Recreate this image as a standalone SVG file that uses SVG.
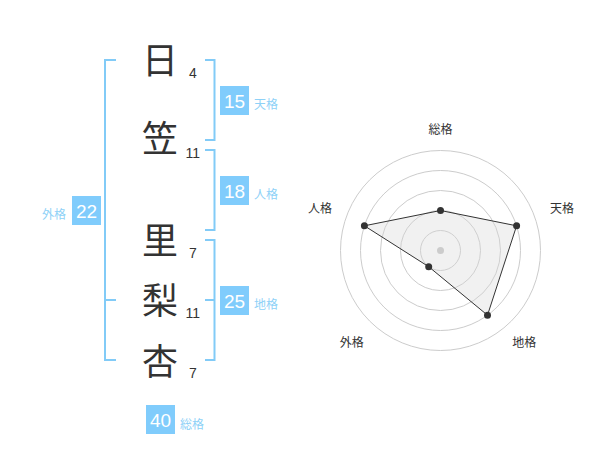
<svg xmlns="http://www.w3.org/2000/svg" width="600" height="470" viewBox="0 0 600 470">
<style>
.kanji{font-family:"Noto Sans CJK JP","Noto Sans CJK SC",sans-serif;font-size:36px;fill:#333;text-anchor:middle}
.strk{font-family:"Liberation Sans",Arial,sans-serif;font-size:14px;fill:#333;text-anchor:middle}
.box{fill:#80ccfc}
.boxnum{font-family:"Liberation Sans",Arial,sans-serif;font-size:19px;fill:#fff;text-anchor:middle}
.lbl{font-family:"Noto Sans CJK JP","Noto Sans CJK SC",sans-serif;font-size:12px;fill:#8ed1f7}
.br{fill:none;stroke:#82cbf7;stroke-width:2}
.ring{fill:none;stroke:#ccc;stroke-width:1}
.rlbl{font-family:"Noto Sans CJK JP","Noto Sans CJK SC",sans-serif;font-size:12px;fill:#333;text-anchor:middle}
.vtx{fill:#333}
</style>
<rect width="600" height="470" fill="#fff"/>
<g id="connectors">
<polyline class="br" points="116,60 105,60 105,360 116,360"/>
<line class="br" x1="105" y1="300" x2="116" y2="300"/>
<polyline class="br" points="205,60 214.5,60 214.5,140 205,140"/>
<polyline class="br" points="205,150 214.5,150 214.5,230 205,230"/>
<polyline class="br" points="205,240 214.5,240 214.5,360 205,360"/>
<line class="br" x1="214.5" y1="300" x2="205" y2="300"/>
</g>
<g id="char-1"><text class="kanji" x="160" y="74">日</text><text class="strk" x="192.8" y="78">4</text></g>
<g id="char-2"><text class="kanji" x="160" y="152">笠</text><text class="strk" x="192.8" y="158">11</text></g>
<g id="char-3"><text class="kanji" x="160" y="254">里</text><text class="strk" x="192.8" y="258">7</text></g>
<g id="char-4"><text class="kanji" x="160" y="314">梨</text><text class="strk" x="192.8" y="318">11</text></g>
<g id="char-5"><text class="kanji" x="160" y="375">杏</text><text class="strk" x="192.8" y="378">7</text></g>
<g id="tenkaku"><rect class="box" x="220" y="86" width="29" height="29"/><text class="boxnum" x="234.5" y="107.5">15</text><text class="lbl" x="254" y="109">天格</text></g>
<g id="jinkaku"><rect class="box" x="220" y="176" width="29" height="29"/><text class="boxnum" x="234.5" y="197.5">18</text><text class="lbl" x="254" y="199">人格</text></g>
<g id="chikaku"><rect class="box" x="220" y="286" width="29" height="29"/><text class="boxnum" x="234.5" y="307.5">25</text><text class="lbl" x="254" y="309">地格</text></g>
<g id="gaikaku"><rect class="box" x="72" y="196" width="29" height="29"/><text class="boxnum" x="86.5" y="217.5">22</text><text class="lbl" x="66" y="219" text-anchor="end">外格</text></g>
<g id="soukaku"><rect class="box" x="146" y="405" width="29" height="29"/><text class="boxnum" x="160.5" y="426.5">40</text><text class="lbl" x="180" y="428.5">総格</text></g>
<g id="radar">
<circle class="ring" cx="440.5" cy="250.5" r="20"/>
<circle class="ring" cx="440.5" cy="250.5" r="40"/>
<circle class="ring" cx="440.5" cy="250.5" r="60"/>
<circle class="ring" cx="440.5" cy="250.5" r="80"/>
<circle class="ring" cx="440.5" cy="250.5" r="100"/>
<polygon points="440.5,210.5 516.6,225.8 487.5,315.2 428.7,266.7 364.4,225.8" fill="#d8d8d8" fill-opacity="0.35" stroke="#333" stroke-width="1"/>
<circle cx="440.5" cy="250.5" r="3.5" fill="#ccc"/>
<circle class="vtx" cx="440.5" cy="210.5" r="3.5"/>
<circle class="vtx" cx="516.6" cy="225.8" r="3.5"/>
<circle class="vtx" cx="487.5" cy="315.2" r="3.5"/>
<circle class="vtx" cx="428.7" cy="266.7" r="3.5"/>
<circle class="vtx" cx="364.4" cy="225.8" r="3.5"/>
<text class="rlbl" x="440.5" y="134">総格</text>
<text class="rlbl" x="562" y="213">天格</text>
<text class="rlbl" x="524.3" y="346.5">地格</text>
<text class="rlbl" x="351.7" y="346.5">外格</text>
<text class="rlbl" x="320" y="213">人格</text>
</g>
</svg>
